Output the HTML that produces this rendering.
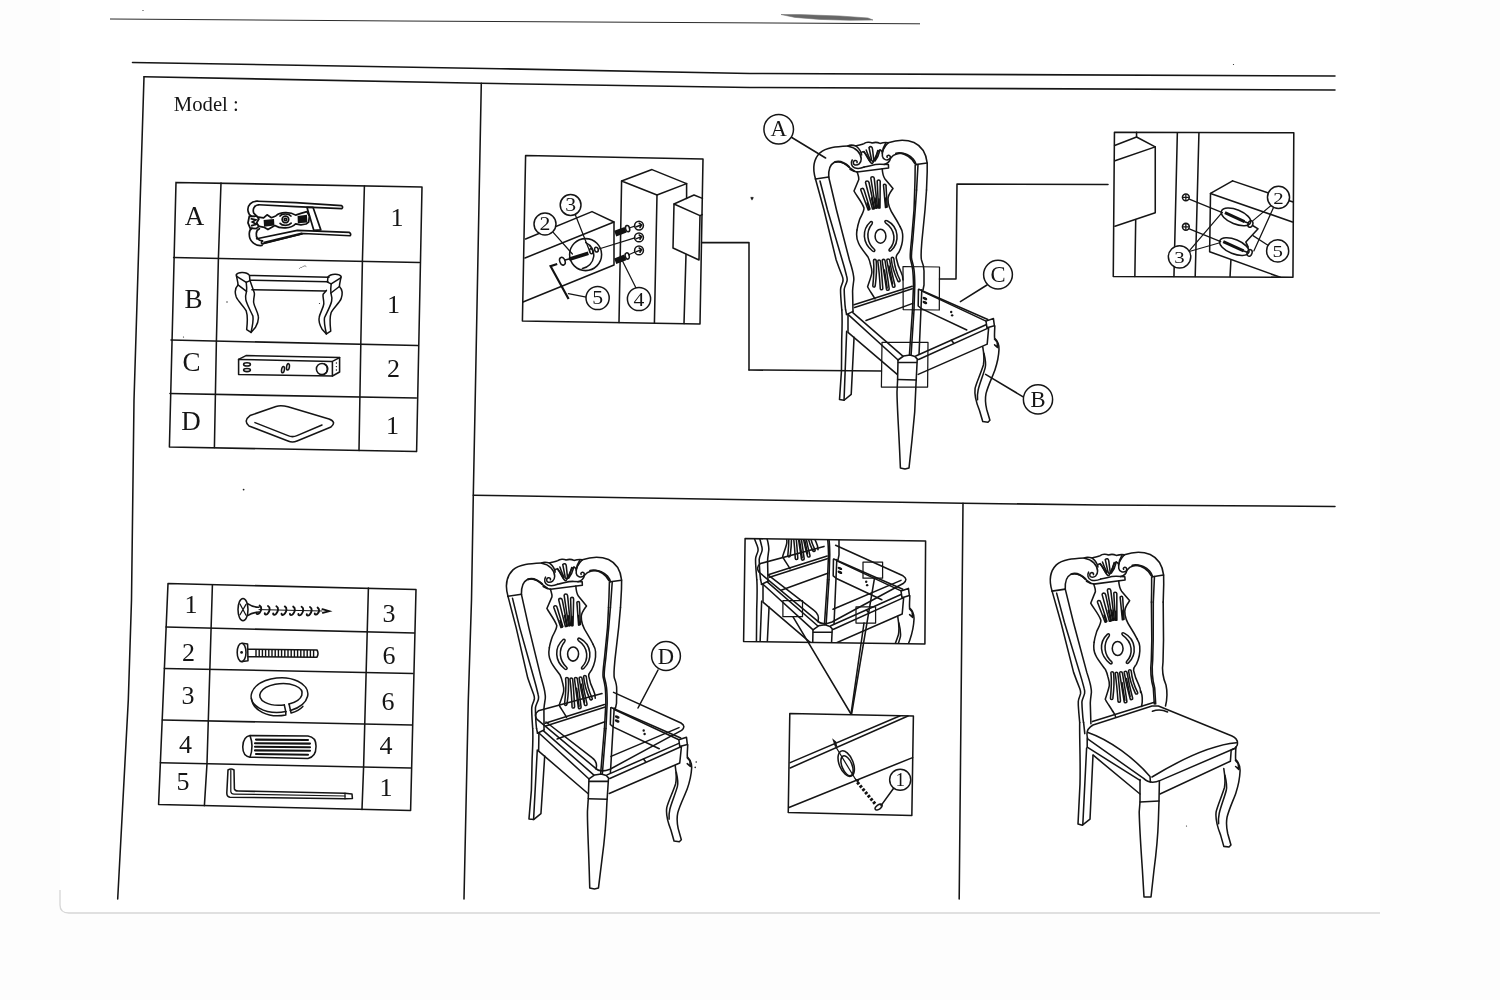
<!DOCTYPE html>
<html lang="en"><head><meta charset="utf-8"><title>Chair assembly sheet</title>
<style>
html,body{margin:0;padding:0;background:#fdfdfd;}
body{width:1500px;height:1000px;overflow:hidden;position:relative;}
svg{position:absolute;left:0;top:0;display:block;filter:grayscale(1)}
svg *{vector-effect:non-scaling-stroke}
.l{fill:none;stroke:#151515;stroke-width:1.55;stroke-linecap:round;stroke-linejoin:round}
.t{fill:none;stroke:#151515;stroke-width:1.25;stroke-linecap:round;stroke-linejoin:round}
.h{fill:none;stroke:#151515;stroke-width:2;stroke-linecap:round;stroke-linejoin:round}
.w{fill:#fff;stroke:#151515;stroke-width:1.5;stroke-linejoin:round}
.k{fill:#151515;stroke:none}
text{font-family:"Liberation Serif","DejaVu Serif",serif;fill:#151515}
</style></head><body>
<svg width="1500" height="1000" viewBox="0 0 1500 1000">
<!-- paper -->
<rect x="0" y="0" width="1500" height="1000" fill="#fdfdfd"/>
<path d="M60,0 L60,905 Q60,913 69,913 L1380,913 L1380,0 Z" fill="#ffffff"/>
<path d="M60,890 L60,905 Q60,913 69,913 L1200,913 L1380,913" fill="none" stroke="#dcd6cc" stroke-width="1.3"/>
<!-- stray top line -->
<path d="M110,19 L400,21 L920,23.8" fill="none" stroke="#2a2a2a" stroke-width="1"/>
<path d="M781,14.5 L800,14.6 L840,16 L868,18 L873,20 L850,20.3 L820,19.4 L795,17.4 Z" fill="#666" stroke="#777" stroke-width="0.6"/>
<!-- frame -->
<path class="l" d="M132.5,62.5 L500,68.7 L750,73.5 L1335,76"/>
<path class="l" d="M144,76.7 L481,83.3 L750,87.5 L1335,90"/>
<path class="l" d="M144,76.7 L134,400 L131.5,600 L128.3,700 L117.7,899"/>
<path class="l" d="M481.3,83.3 L475.2,400 L473.3,495 L471.5,600 L468.3,700 L464,899"/>
<path class="l" d="M473.3,495.2 L963,503.2 L1100,505 L1335,506.5"/>
<path class="l" d="M963,503.2 L959.2,899"/>

<!-- Model label -->
<text x="173.8" y="110.8" font-size="22" textLength="65" lengthAdjust="spacingAndGlyphs">Model :</text>
<!-- Table 1 grid -->
<path class="l" d="M176,182.4 L422,187 L416.6,451.6 L169.4,447 Z"/>
<path class="l" d="M173.6,257.6 L419.4,262.4"/>
<path class="l" d="M171,340 L417.6,345.6"/>
<path class="l" d="M170,393.6 L416.4,398"/>
<path class="l" d="M221,183 L218.4,258.4 L216.4,341 L214.4,447.6"/>
<path class="l" d="M364.4,186 L362.4,261.4 L360.8,344.4 L359,450.6"/>
<g font-size="27" text-anchor="middle">
<text x="194.4" y="224.5">A</text>
<text x="193.6" y="307.5">B</text>
<text x="191.4" y="371">C</text>
<text x="191" y="430">D</text>
<text x="397" y="225.5" font-size="26">1</text>
<text x="393.6" y="312.5" font-size="26">1</text>
<text x="393.6" y="377" font-size="26">2</text>
<text x="392.4" y="434" font-size="26">1</text>
</g>
<!-- Table 2 grid -->
<path class="l" d="M168,583.6 L416,589.4 L410.6,810.4 L158.6,804.4 Z"/>
<path class="l" d="M166,627 L414.4,633"/>
<path class="l" d="M164.4,668.4 L413,673.4"/>
<path class="l" d="M162.4,720 L412,725"/>
<path class="l" d="M160.4,762.8 L410.6,768"/>
<path class="l" d="M212.4,585 L207,763.6 L204.4,805.6"/>
<path class="l" d="M368.4,588 L363.6,767 L362,809.4"/>
<g font-size="26" text-anchor="middle">
<text x="191" y="612.5">1</text>
<text x="188.4" y="660.5">2</text>
<text x="188" y="704">3</text>
<text x="185.6" y="752.5">4</text>
<text x="183" y="790">5</text>
<text x="389" y="621.5">3</text>
<text x="389" y="664">6</text>
<text x="388" y="710">6</text>
<text x="386" y="754">4</text>
<text x="386" y="796">1</text>
</g>

<!-- Part A icon : origin 235,190 scale .08667 -->
<g transform="translate(235,190) scale(0.08667)">
<g fill="none" stroke="#111" stroke-width="1.7" stroke-linecap="round" stroke-linejoin="round">
<path d="M262,130 L700,146 L1230,180 Q1252,198 1232,216 L900,200 L700,192 L272,170"/>
<path d="M262,130 C190,124 140,180 150,240 C155,270 170,292 192,302"/>
<path d="M272,170 C222,176 200,222 216,266 L242,292"/>
<path d="M250,562 L720,466 L1320,490 Q1345,508 1328,528 L790,502 L322,620"/>
<path d="M312,640 C232,650 160,590 165,500 C166,470 176,450 196,440"/>
<path d="M322,620 C300,630 300,600 318,588 M318,588 C270,590 240,550 246,500 C248,470 260,456 282,446"/>
<path d="M830,200 L900,200 L990,460 L910,466 Z"/>
<path d="M270,312 L330,322 L370,286 L420,320 L470,300 C520,250 640,250 700,290 L760,270 L830,250 L858,300 L850,370 L820,392 L760,402 L700,390 C650,450 520,450 460,410 L420,432 L380,456 L340,432 L280,420"/>
<circle cx="582" cy="340" r="38"/><circle cx="582" cy="340" r="14"/>
<path d="M520,300 C540,270 620,268 645,300 M520,385 C545,415 620,415 648,382"/>
</g>
<path d="M330,345 L450,335 L455,410 L335,425 Z" fill="#111"/>
<path d="M722,300 L830,285 L835,375 L725,385 Z" fill="#111"/>
<path d="M165,305 L250,300 L275,335 L250,380 L275,420 L245,445 L175,440 L150,380 Z" fill="none" stroke="#111" stroke-width="1.8"/>
<path d="M180,330 L240,345 L200,370 L245,395 L185,415" fill="none" stroke="#111" stroke-width="1.8"/>
<path d="M330,610 L780,500" fill="none" stroke="#111" stroke-width="2.4"/>
</g>

<!-- Part B icon : origin 225,265 scale .08667 -->
<g transform="translate(225,265) scale(0.08667)" fill="none" stroke="#111" stroke-width="1.5" stroke-linecap="round" stroke-linejoin="round">
<path d="M285,120 L1200,140"/><path d="M290,175 L1188,192"/><path d="M310,285 L1160,300"/>
<g id="bleg">
<path d="M130,112 C150,78 250,78 282,120 L288,180 L245,200 L135,130 Z"/>
<path d="M132,125 C140,170 150,200 150,230 C120,260 105,300 130,370 C150,420 220,480 245,530 C262,580 262,640 250,745 L300,778 L350,722 C375,680 392,640 384,590 C378,540 335,480 330,430 C328,380 345,350 338,320 L290,185"/>
<path d="M245,200 C250,240 252,280 248,305 C238,340 232,370 240,400 C250,450 290,520 322,590 C330,640 318,700 300,778"/>
<path d="M150,230 L248,305"/>
</g>
<g transform="translate(1470,18) scale(-1,1)">
<path d="M130,112 C150,78 250,78 282,120 L288,180 L245,200 L135,130 Z"/>
<path d="M132,125 C140,170 150,200 150,230 C120,260 105,300 130,370 C150,420 220,480 245,530 C262,580 262,640 250,745 L300,778 L350,722 C375,680 392,640 384,590 C378,540 335,480 330,430 C328,380 345,350 338,320 L300,275"/>
<path d="M245,200 C250,240 252,280 248,305 C238,340 232,370 240,400 C250,450 290,520 322,590 C330,640 318,700 300,778"/>
<path d="M150,230 L248,305"/>
</g>
</g>

<!-- Part C and D icons : origin 150,310 scale .2 -->
<g transform="translate(150,310) scale(0.2)">
<path class="l" d="M443,247 L480,228 L948,238 L948,310 L912,330 L443,322 Z"/>
<path class="l" d="M443,247 L912,257 L912,330 M912,257 L948,238"/>
<ellipse class="l" cx="485" cy="272" rx="17" ry="8"/><ellipse class="l" cx="485" cy="300" rx="17" ry="8"/>
<ellipse class="l" cx="665" cy="298" rx="7" ry="16" transform="rotate(10 665 298)"/><ellipse class="l" cx="690" cy="284" rx="7" ry="16" transform="rotate(10 690 284)"/>
<circle class="l" cx="860" cy="295" r="28"/>
<path class="l" d="M872,270 A28,28 0 0 1 872,320"/>
<circle class="k" cx="932" cy="265" r="3.5"/><circle class="k" cx="932" cy="283" r="3.5"/><circle class="k" cx="932" cy="300" r="3.5"/>
<!-- D cushion -->
<path class="l" d="M500,528 L630,482 Q655,474 690,484 L895,545 Q935,560 905,585 L735,655 Q712,665 690,655 L495,580 Q465,555 500,528 Z"/>
<path class="l" d="M525,563 L690,628 Q712,638 735,628 L860,575"/>
</g>

<!-- hardware icons : origin 150,570 scale .2 -->
<g transform="translate(150,570) scale(0.2)">
<!-- 1 wood screw -->
<ellipse class="l" cx="465" cy="198" rx="25" ry="56"/>
<path class="t" d="M450,170 L480,226 M480,172 L450,224"/>
<path class="l" d="M488,168 C505,180 520,186 545,186 M488,228 C505,216 520,212 545,210"/>
<g fill="none" stroke="#111" stroke-width="1.9" stroke-linecap="round">
<path d="M548,178 C562,186 556,204 548,214 C542,224 530,222 532,214"/>
<path d="M590,180 C604,188 598,206 590,216 C584,226 572,224 574,216"/>
<path d="M632,181 C646,189 640,207 632,217 C626,227 614,225 616,217"/>
<path d="M674,182 C688,190 682,208 674,218 C668,228 656,226 658,218"/>
<path d="M716,183 C730,191 724,209 716,219 C710,229 698,227 700,219"/>
<path d="M758,184 C772,192 766,210 758,220 C752,230 740,228 742,220"/>
<path d="M800,185 C814,193 808,211 800,221 C794,231 782,229 784,221"/>
<path d="M838,188 C850,196 846,210 838,218 C832,226 822,224 824,217"/>
<path d="M862,196 L895,206 L864,214"/>
<path d="M545,198 L860,205" stroke-width="1"/>
</g>
<!-- 2 bolt -->
<ellipse class="l" cx="458" cy="412" rx="22" ry="46"/>
<circle class="k" cx="458" cy="412" r="7"/>
<path class="l" d="M462,366 L488,370 L490,454 L462,458"/>
<path class="l" d="M490,396 L835,400 Q845,418 835,436 L490,434"/>
<g fill="none" stroke="#111" stroke-width="1.4">
<path d="M530,398 L530,434 M546,398 L546,434 M562,398 L562,434 M578,398 L578,434 M594,399 L594,434 M610,399 L610,434 M626,399 L626,435 M642,399 L642,435 M658,399 L658,435 M674,399 L674,435 M690,399 L690,435 M706,399 L706,435 M722,400 L722,435 M738,400 L738,435 M754,400 L754,435 M770,400 L770,436 M786,400 L786,436 M802,400 L802,436 M818,400 L818,436"/>
</g>
<!-- 3 ring washer -->
<g transform="rotate(-4 648 625)">
<path class="l" d="M697,706 A142,86 0 1 0 673,710"/>
<path class="l" d="M692,673 A106,54 0 1 0 668,676"/>
<path class="l" d="M697,706 L692,673 M673,710 L668,676"/>
<path class="l" d="M506,632 C508,690 580,738 672,727 L673,710"/>
<path class="l" d="M697,706 L699,719 C722,714 745,704 760,690"/>
</g>
<!-- 4 dowel -->
<path class="l" d="M500,828 L790,830 Q832,836 830,884 Q830,934 790,942 L500,936 Q462,930 464,882 Q466,834 500,828 Z"/>
<path class="l" d="M500,828 Q520,880 500,936"/>
<g fill="none" stroke="#111" stroke-width="2.1" stroke-linecap="round">
<path d="M530,848 L790,850"/><path d="M525,866 L800,868"/><path d="M525,884 L800,886"/><path d="M525,902 L800,904"/><path d="M530,920 L790,924"/>
</g>
</g>
<!-- 5 allen key : origin 150,700 scale .2 -->
<g transform="translate(150,700) scale(0.2)">
<path class="l" d="M390,350 Q405,340 420,350 L422,445 Q425,455 440,455 L975,466 L1010,470 L1012,492 L975,494 L400,486 Q384,484 384,465 Z"/>
<path class="t" d="M404,352 L404,458 Q406,470 420,470 L975,480"/>
<path class="t" d="M975,466 L975,494"/>
</g>

<!-- Detail 1 (bolt + dowels) : coordinates in 5x zoom space -->
<g transform="translate(510,140) scale(0.2)">
<path class="l" d="M78,78 L965,95 L950,920 L62,905 Z"/>
<!-- post -->
<path class="l" d="M558,205 L710,148 L883,218 L735,275 Z"/>
<path class="l" d="M558,205 L545,913"/>
<path class="l" d="M735,275 L722,916"/>
<path class="l" d="M883,218 L883,292"/>
<path class="l" d="M880,572 L870,918"/>
<!-- right block -->
<path class="l" d="M820,320 L815,540 L945,600 L950,378 Z"/>
<path class="l" d="M820,320 L920,275 L962,292"/>
<path class="l" d="M950,378 L961,373"/>
<!-- left rail -->
<path class="l" d="M78,495 L410,358 L520,410 L520,625 L65,810"/>
<path class="l" d="M75,590 L520,410"/>
<!-- bore hole -->
<circle class="l" cx="378" cy="573" r="80"/>
<path class="l" d="M379,513 A68,68 0 0 1 362,642"/>
<!-- bolt -->
<ellipse class="l" cx="262" cy="606" rx="13" ry="20" transform="rotate(-20 262 606)"/>
<path class="l" d="M275,600 L300,594"/>
<path d="M296,596 L392,566" fill="none" stroke="#111" stroke-width="3.6"/>
<ellipse class="l" cx="406" cy="556" rx="8" ry="13" transform="rotate(-15 406 556)"/>
<ellipse class="l" cx="432" cy="548" rx="9" ry="12" transform="rotate(-15 432 548)"/>
<path class="t" d="M444,545 L624,489"/>
<!-- dowels -->
<path d="M526,468 L578,449" fill="none" stroke="#111" stroke-width="6"/>
<ellipse class="l" cx="588" cy="443" rx="10" ry="16" transform="rotate(-15 588 443)"/>
<path class="t" d="M596,440 L624,431"/>
<path d="M526,606 L576,587" fill="none" stroke="#111" stroke-width="6"/>
<ellipse class="l" cx="586" cy="580" rx="10" ry="16" transform="rotate(-15 586 580)"/>
<path class="t" d="M594,574 L624,560"/>
<!-- arrow circles -->
<circle class="l" cx="645" cy="428" r="22"/><path class="l" d="M632,434 L658,424 M646,416 L658,424 L650,438"/>
<circle class="l" cx="645" cy="487" r="22"/><path class="l" d="M632,493 L658,483 M646,475 L658,483 L650,497"/>
<circle class="l" cx="645" cy="552" r="22"/><path class="l" d="M632,558 L658,548 M646,540 L658,548 L650,562"/>
<!-- allen key -->
<path d="M236,620 L203,631 L293,795" fill="none" stroke="#111" stroke-width="2.2" stroke-linejoin="miter"/>
<!-- labels -->
<path class="t" d="M326,372 L400,560"/>
<path class="t" d="M216,462 L312,570"/>
<path class="t" d="M381,786 L292,768"/>
<path class="t" d="M630,740 L560,600"/>
<circle class="w" cx="303" cy="325" r="52"/>
<circle class="w" cx="175" cy="420" r="55"/>
<circle class="w" cx="438" cy="790" r="58"/>
<circle class="w" cx="645" cy="795" r="58"/>
<g font-family="'Liberation Sans',sans-serif" font-size="92" text-anchor="middle" style="font-family:'Liberation Sans',sans-serif">
<text transform="translate(303,357) scale(1.18,1)">3</text><text transform="translate(175,452) scale(1.18,1)">2</text><text transform="translate(438,822) scale(1.18,1)">5</text><text transform="translate(645,828) scale(1.18,1)">4</text>
</g>
<!-- connector -->
<path class="l" d="M958,513 L1195,513 L1195,1150"/>
</g>

<!-- Chair 1 -->
<g id="chairTop" transform="translate(800,130) scale(0.1)">
<!-- top rail / ears : 10x zoom coords origin (800,130) -->
<path class="l" d="M155,490 C128,400 128,300 200,228 C262,172 370,166 480,160"/>
<path class="l" d="M155,490 L287,470"/>
<path class="l" d="M287,470 C284,400 292,350 340,325 C400,300 450,330 500,380 L545,412"/>
<path class="h" d="M350,320 C400,305 450,330 490,368"/>
<path class="l" d="M500,392 L540,412 L572,420"/>
<!-- crest top edge -->
<path class="l" d="M480,160 C500,148 530,150 560,160 C580,150 620,148 640,136 C660,120 700,118 722,130 C745,122 780,124 800,134 C830,126 860,124 882,128"/>
<!-- left volute -->
<path class="l" d="M482,162 C560,175 610,230 612,290 C612,335 580,355 550,350 C528,345 528,312 548,306 C565,302 576,315 570,326"/>
<path class="l" d="M522,300 C505,330 515,365 545,378 C580,390 615,382 642,370"/>
<!-- right volute -->
<path class="l" d="M882,128 C850,160 818,215 824,262 C830,298 870,308 895,290 C912,275 902,250 884,252 C872,254 866,264 872,272"/>
<path class="l" d="M905,282 C900,310 880,335 842,345"/>
<!-- shell -->
<path class="l" d="M612,230 C630,200 660,230 690,300 C700,320 712,335 722,335 C735,330 745,300 760,260 C775,215 800,180 818,215"/>
<path class="l" d="M640,215 C660,250 680,290 700,312 M800,200 C790,240 770,285 750,310 M662,200 C676,240 690,275 706,300 M778,205 C770,240 758,275 744,300"/>
<path class="l" d="M560,160 C590,185 612,215 616,250 M858,130 C840,160 826,195 822,230"/>
<path class="l" d="M690,175 C705,160 722,165 725,190 L738,300 C735,318 722,318 716,300 Z"/>
<path class="l" d="M642,370 C700,362 740,340 800,342 L884,346 L886,380 L572,420"/>
<!-- right ear -->
<path class="l" d="M882,128 C960,100 1060,92 1140,125 C1215,160 1262,240 1272,330 L1272,420 L1265,600"/>
<path class="l" d="M905,282 C935,240 1000,218 1070,245 C1120,265 1155,310 1162,346"/>
<path class="h" d="M960,235 C1010,220 1075,245 1120,292 L1150,335"/>
<path class="l" d="M1162,346 L1271,330"/>
<path class="l" d="M1152,350 L1150,500 L1147,600"/>
<path class="l" d="M1180,345 L1166,600"/>
<!-- left stile -->
<path class="l" d="M155,490 L240,800 L362,1300 C390,1380 410,1430 422,1460 C430,1480 432,1495 430,1510 C424,1540 408,1560 406,1590 C404,1630 408,1660 410,1700 L418,1800"/>
<path class="l" d="M200,510 L275,800 L422,1300 C440,1360 456,1420 466,1460 C472,1480 474,1495 470,1510 C462,1545 444,1565 442,1596 C442,1650 447,1700 450,1748 L456,1800"/>
<path class="l" d="M287,470 L365,800 L494,1300 C510,1350 524,1400 530,1428 C536,1460 540,1480 538,1500 C532,1550 524,1590 526,1620 L530,1812"/>
<!-- splat upper contour -->
<path class="l" d="M572,420 C580,450 592,470 588,495 L540,610 C560,650 620,720 640,780 C640,820 610,860 598,890 C585,930 575,960 570,1000"/>
<path class="l" d="M822,388 C825,430 835,470 850,490 L930,585 C905,620 880,650 880,690 C878,740 900,800 940,860 C965,900 985,935 1000,965"/>
<!-- upper flutes -->
<g class="l">
<path d="M608,600 C605,580 635,578 640,598 L700,790 L682,800 Z"/>
<path d="M655,525 C655,505 685,505 690,525 L745,785 L725,790 Z"/>
<path d="M708,480 C710,462 738,462 742,482 L775,778 L757,782 Z"/>
<path d="M772,512 C772,496 800,496 802,514 L800,780 L785,780 Z"/>
<path d="M835,552 C835,538 860,538 860,554 L872,770 L855,775 Z"/>
</g>
<g fill="none" stroke="#111" stroke-width="1.6" stroke-linecap="round">
<path d="M672,730 L692,795"/><path d="M715,680 L738,788"/><path d="M750,680 L766,780"/><path d="M790,690 L792,778"/><path d="M852,680 L863,772"/>
</g>
<g transform="translate(200,800)">
<path class="l" d="M370,200 C360,260 370,300 385,330 C400,370 450,430 480,470 C495,500 500,520 505,545 C515,580 522,600 518,630 C512,670 490,720 476,768 C490,800 530,850 550,890"/>
<path class="l" d="M800,165 C815,190 825,210 826,240 C830,290 815,370 790,420 C770,445 758,455 762,480 C770,520 790,580 810,620 C825,650 830,660 830,700"/>
<ellipse class="l" cx="605" cy="262" rx="54" ry="70"/>
<path class="l" d="M505,118 C520,110 530,125 520,140 C455,220 470,330 545,395 C555,410 540,422 525,410 C425,330 415,200 505,118 Z"/>
<path class="l" d="M655,128 C640,112 655,98 672,108 C790,170 800,320 712,405 C698,418 682,405 695,390 C760,320 760,200 655,128 Z"/>
<g class="l">
<path d="M535,505 C535,490 560,490 562,505 C570,600 560,700 552,760 C548,775 528,775 528,758 C535,690 545,600 535,505 Z"/>
<path d="M578,510 C578,496 602,496 604,510 C615,600 622,700 628,785 C628,800 606,802 603,788 C598,700 590,600 578,510 Z"/>
<path d="M622,505 C622,490 648,490 650,505 C665,600 680,700 692,790 C692,805 668,808 665,794 C652,700 635,600 622,505 Z"/>
<path d="M668,500 C668,486 694,486 696,500 C710,590 730,680 750,758 C752,772 730,778 725,764 C702,680 682,590 668,500 Z"/>
<path d="M712,485 C712,470 736,470 738,485 C745,560 770,640 800,700 C806,714 786,722 778,710 C745,640 720,560 712,485 Z"/>
</g>
<g fill="none" stroke="#111" stroke-width="1.5" stroke-linecap="round">
<path d="M645,600 L672,780"/><path d="M690,560 L725,740"/>
</g>
</g>
</g>
<g id="rsLower" transform="translate(800,130) scale(0.1)">
<path class="l" d="M1265,600 L1250,800 L1220,1100 C1212,1200 1205,1260 1215,1300 C1235,1350 1242,1380 1240,1420 L1240,1550 L1230,1600"/>
<path class="l" d="M1147,600 L1140,800 L1115,1100 C1105,1200 1098,1250 1104,1290 C1125,1370 1132,1400 1135,1550 L1125,1800"/>
<path class="l" d="M1166,600 L1152,800 L1128,1100 C1118,1200 1110,1250 1116,1290 C1138,1370 1146,1400 1148,1550 L1140,1800"/>
</g>

<!-- Chair 1 : back-left leg (z6: origin 820,280 scale .13) -->
<g id="blLeg" transform="translate(820,280) scale(0.13)">
<path class="l" d="M168,230 C171,280 170,380 167,460 L165,700 L150,920 L185,925 L240,880 L262,440"/>
<path class="l" d="M197,230 L204,262"/>
<path class="l" d="M205,395 L185,925"/>
</g>
<!-- seat frame (z3: origin 830,270 scale .12) -->
<g id="seat1" transform="translate(830,270) scale(0.12)">
<!-- back-right leg seen through frame -->
<path class="l" d="M687,333 L662,705"/><path class="l" d="M700,333 L676,705"/><path class="l" d="M765,165 L742,700"/>
<!-- back rail -->
<path class="l" d="M200,290 L685,135"/><path class="l" d="M205,312 L685,157"/><path class="l" d="M300,420 L690,278"/>
<!-- left rail -->
<path class="l" d="M137,372 L192,345"/>
<path class="l" d="M150,370 L565,748"/><path class="l" d="M190,355 L605,716"/><path class="l" d="M150,370 L150,520 L560,870"/>
<!-- front rail -->
<path class="l" d="M715,716 L1300,456"/><path class="l" d="M738,746 L1322,482 L1310,618 L735,870"/>
<path class="l" d="M1012,585 L1030,608"/>
<!-- C rail -->
<path class="l" d="M740,160 L1315,412"/><path class="l" d="M766,176 L1300,426"/>
<path class="l" d="M737,162 L735,300 L762,322 L1140,500"/>
<ellipse class="k" cx="791" cy="238" rx="21" ry="11" transform="rotate(25 791 238)"/><ellipse class="k" cx="791" cy="271" rx="21" ry="11" transform="rotate(25 791 271)"/>
<circle class="k" cx="1010" cy="350" r="10"/><circle class="k" cx="1018" cy="378" r="10"/>
<!-- corner block -->
<path class="l" d="M1300,426 L1362,405 L1370,465 L1308,482 Z"/>
</g>
<!-- front-left leg + B leg (z2: origin 750,280 scale .2) -->
<g id="legs1" transform="translate(750,280) scale(0.2)">
<path class="l" d="M740,400 L768,380 L800,375 L825,383 L838,397"/>
<path class="l" d="M740,400 L738,500 L735,560 C735,620 742,720 748,850 L752,940 L775,945 L795,940 L810,800 C822,700 828,620 830,520 L836,400"/>
<path class="l" d="M742,412 L833,412"/><path class="l" d="M738,498 L831,500"/>
<!-- B leg (coords: origin 960,300 scale .13) -->
<g transform="translate(1050,100) scale(0.65)">
<path class="l" d="M268,200 C266,240 264,270 266,292 C290,315 302,340 300,380 C298,430 285,490 268,540 C250,590 215,660 200,720 C192,760 196,800 205,840 L230,925 L215,940 L175,935 L150,850 C125,790 108,740 116,680 C128,630 158,570 180,500 C190,450 182,400 175,360"/>
<path class="l" d="M265,300 L285,322 L290,366 L266,345"/>
<path class="l" d="M184,410 C196,460 202,490 194,520 C181,570 152,640 140,690 C134,720 132,745 135,768"/>
</g>
</g>

<!-- Chair 1 annotations: highlight boxes, connectors, labels -->
<g transform="translate(750,280) scale(0.2)">
<path class="t" d="M660,312 L890,312 L888,535 L657,535 Z"/>
<path class="l" d="M657,455 L-5,450"/>
<path class="l" d="M1372,588 L1178,472"/>
<circle class="w" cx="1440" cy="597" r="73"/>
<text x="1440" y="634" font-size="113" text-anchor="middle">B</text>
</g>
<g transform="translate(750,100) scale(0.2)">
<path class="l" d="M205,185 L378,290"/>
<circle class="w" cx="143.5" cy="146" r="74"/>
<text x="143.5" y="181" font-size="113" text-anchor="middle">A</text>
<path class="l" d="M1185,925 L1052,1008"/>
<circle class="w" cx="1240" cy="873" r="72"/>
<text x="1240" y="910" font-size="113" text-anchor="middle">C</text>
</g>
<path class="t" d="M903,266.5 L939.5,267 L939.3,310 L903.2,309.6 Z"/>
<path class="l" d="M939.5,279 L956,279 L957,184 L1108,184.5"/>

<!-- Detail 2 (upper right) : origin 1100,120 scale .17 -->
<g transform="translate(1100,120) scale(0.17)">
<path class="l" d="M85,72 L1140,75 L1135,925 L78,920 Z"/>
<!-- left block -->
<path class="l" d="M215,72 L215,100 L325,158 L325,545 L88,625"/>
<path class="l" d="M86,150 L215,100"/>
<path class="l" d="M88,240 L325,158"/>
<path class="l" d="M210,590 L205,920"/>
<!-- post -->
<path class="l" d="M455,75 L435,920"/>
<path class="l" d="M582,75 L560,920"/>
<!-- right block -->
<path class="l" d="M780,358 L650,432 L645,775 L1060,925"/>
<path class="l" d="M780,358 L1000,432"/>
<path class="l" d="M650,432 L1132,600"/>
<path class="l" d="M1100,470 L1136,482"/>
<path class="l" d="M770,825 L765,920"/>
<!-- holes -->
<circle class="l" cx="505" cy="455" r="20"/><path class="t" d="M490,455 L520,455 M505,440 L505,470"/>
<circle class="l" cx="505" cy="628" r="20"/><path class="t" d="M490,628 L520,628 M505,613 L505,643"/>
<path class="t" d="M525,465 L720,545"/><path class="t" d="M525,640 L710,715"/>
<!-- slots -->
<ellipse class="l" cx="800" cy="570" rx="92" ry="42" transform="rotate(22 800 570)"/>
<ellipse class="l" cx="790" cy="745" rx="92" ry="42" transform="rotate(22 790 745)"/>
<path d="M735,545 L850,598" fill="none" stroke="#111" stroke-width="3"/>
<path d="M725,716 L845,770" fill="none" stroke="#111" stroke-width="3"/>
<ellipse class="l" cx="885" cy="612" rx="14" ry="20" transform="rotate(20 885 612)"/>
<ellipse class="l" cx="880" cy="782" rx="14" ry="20" transform="rotate(20 880 782)"/>
<path class="l" d="M850,598 L872,606 M845,770 L867,778"/>
<!-- allen key -->
<path class="l" d="M900,622 L930,640 L858,718 L872,748"/>
<!-- leaders -->
<path class="t" d="M1010,500 L900,592"/><path class="t" d="M1022,512 L905,770"/>
<path class="t" d="M525,770 L715,548"/><path class="t" d="M530,772 L705,722"/>
<path class="t" d="M990,738 L900,680"/>
<circle class="w" cx="1050" cy="455" r="65"/>
<circle class="w" cx="1045" cy="770" r="65"/>
<circle class="w" cx="468" cy="805" r="66"/>
<g font-size="104" text-anchor="middle" style="font-family:'Liberation Sans',sans-serif">
<text transform="translate(1050,492) scale(1.18,1)">2</text><text transform="translate(1045,808) scale(1.18,1)">5</text><text transform="translate(468,843) scale(1.18,1)">3</text>
</g>
</g>

<!-- Chair 2 (lower left): same chair, translated -->
<g transform="matrix(1.015 0 -0.0153 1.009 -317.0 415.73)">
<use href="#chairTop"/><use href="#rsLower"/><use href="#blLeg"/><use href="#seat1"/><use href="#legs1"/>
</g>
<!-- cushion outline + D label : origin 480,690 scale .2 -->
<g id="cushOutline" transform="translate(480,690) scale(0.2)">
<path class="l" d="M292,104 L610,18 M668,12 L1005,165 Q1032,182 1008,202 L650,396 Q600,416 574,388 L284,146 Q268,120 292,104"/>
<path class="l" d="M330,160 L560,338 Q590,360 580,395"/>
<path class="l" d="M655,332 L995,188"/>
</g>
<g transform="translate(480,530) scale(0.2)">
<path class="l" d="M890,700 L790,890"/>
<circle class="w" cx="930" cy="630" r="72"/>
<text x="930" y="668" font-size="113" text-anchor="middle">D</text>
</g>

<!-- Chair 3 (lower right, finished chair) -->
<g transform="matrix(1 0 0.01 1.003 234.8 411.6)"><use href="#chairTop"/></g>
<path class="l" d="M1163.2,602 L1163.5,640 L1163,662 C1161.5,672 1163,678 1166,685 C1167.5,692 1167.5,698 1165.5,706"/>
<path class="l" d="M1151.4,602 L1151.8,640 L1151.3,660 C1150,672 1151,680 1153.3,688 L1154.3,704"/>
<path class="l" d="M1153.3,602 L1153.2,640 L1152.7,660 C1151.4,672 1152.4,680 1154.7,688 L1155.7,704"/>
<path class="l" d="M1140.8,691 C1143,697 1142.8,701 1141.6,706.5"/>
<path class="l" d="M1112.6,711 C1114.5,713.5 1115.5,715.5 1115.8,717.5"/>
<g transform="translate(1020,700) scale(0.2)">
<!-- back-left leg -->
<path class="l" d="M298.5,112 C297,200 303,300 300,420 L290,620 L312,626 L350,596 L365,275"/>
<path class="l" d="M318,112 L324,168"/>
<path class="l" d="M333,240 L314,624"/>
<!-- back rail -->
<path class="l" d="M362,108 L668,12"/>
<!-- cushion -->
<path class="w" d="M365,125 L660,30 L692,30 L1060,180 Q1094,196 1086,226 L1078,240 L702,402 Q650,424 618,392 L340,196 Q322,150 365,125 Z"/>
<path class="l" d="M340,162 C450,200 570,290 650,382 L652,410"/>
<path class="l" d="M660,385 C800,300 960,225 1082,214"/>
<path class="l" d="M662,56 Q700,42 738,60"/>
<!-- rails -->
<path class="l" d="M336,190 L336,236 L600,402"/>
<path class="l" d="M366,276 L600,470"/>
<path class="l" d="M1078,240 L1056,250 L1052,306 L700,470"/>
<!-- front leg -->
<path class="l" d="M600,398 L600,510 L596,560 C598,650 606,760 612,850 L620,985 L655,985 L670,850 C682,760 690,660 692,600 L695,505 L697,404"/>
<path class="l" d="M600,510 L695,505"/>
</g>
<g transform="matrix(0.13 0 0 0.13533 1201.05 719.83)">
<path class="l" d="M268,200 C266,240 264,270 266,292 C290,315 302,340 300,380 C298,430 285,490 268,540 C250,590 215,660 200,720 C192,760 196,800 205,840 L230,925 L215,940 L175,935 L150,850 C125,790 108,740 116,680 C128,630 158,570 180,500 C190,450 182,400 175,360"/>
<path class="l" d="M265,300 L285,322 L290,366 L266,345"/>
<path class="l" d="M184,410 C196,460 202,490 194,520 C181,570 152,640 140,690 C134,720 132,745 135,768"/>
</g>

<!-- Detail 3 : enlarged seat frame with highlight boxes -->
<clipPath id="d3clip"><path d="M745.1,538.6 L925.6,541.1 L924.9,644 L743.6,641.5 Z"/></clipPath>
<g clip-path="url(#d3clip)">
<g transform="translate(-85,269.8)"><use href="#chairTop"/><use href="#rsLower"/><use href="#blLeg"/><use href="#seat1"/><use href="#legs1"/></g>
<g transform="translate(222,-147.2)"><use href="#cushOutline"/></g>
</g>
<path class="l" d="M745.1,538.6 L925.6,541.1 L924.9,644 L743.6,641.5 Z"/>
<path class="t" d="M782.9,600.6 L802.5,600.6 L802.5,616.7 L782.9,616.7 Z"/>
<path class="t" d="M863,562.1 L882.6,562.1 L882.6,578.2 L863,578.2 Z"/>
<path class="t" d="M856,606.9 L875.6,606.9 L875.6,623 L856,623 Z"/>
<path class="l" d="M792.9,616.7 L851,714"/>
<path class="l" d="M874.5,578.2 L851.6,714"/>
<path class="l" d="M864,623 L851,714"/>
<!-- Detail 4 : screw through slot ; origin 770,700 scale .12 -->
<g transform="translate(770,700) scale(0.12)">
<path class="l" d="M165,112 L1195,133 L1182,962 L152,938 Z"/>
<path class="l" d="M168,522 L1085,131"/><path class="l" d="M168,566 L1150,134"/>
<path class="l" d="M158,896 L1188,480"/>
<ellipse class="l" cx="635" cy="530" rx="58" ry="112" transform="rotate(-22 635 530)"/>
<ellipse class="l" cx="642" cy="548" rx="42" ry="88" transform="rotate(-22 642 548)"/>
<path class="t" d="M548,390 L715,665"/>
<path class="k" d="M518,318 L550,345 L562,392 L540,388 Z"/>
<path class="k" d="M705,652 L745,668 L728,692 Z"/>
<path d="M728,685 L880,870" fill="none" stroke="#111" stroke-width="3.2" stroke-dasharray="2.6 1.6"/>
<ellipse class="l" cx="905" cy="892" rx="34" ry="18" transform="rotate(-35 905 892)"/>
<path class="l" d="M1030,735 L925,880"/>
<circle class="w" cx="1085" cy="665" r="88"/>
<text x="1085" y="718" font-size="160" text-anchor="middle">1</text>
</g>

<!-- scan specks -->
<g fill="#222" stroke="none">
<path d="M750.5,197 Q751.5,196.4 752,197.4 Q752.8,196.4 753.6,197.2 Q753.6,198.8 752,200.4 Q750.4,198.8 750.5,197 Z"/>
<circle cx="243.6" cy="489.6" r="0.9"/>
<circle cx="227" cy="302" r="0.7"/>
<circle cx="319.5" cy="303.5" r="0.6"/>
<circle cx="183.5" cy="337" r="0.6"/>
<circle cx="696.2" cy="762" r="0.8"/><circle cx="695.2" cy="767.4" r="0.8"/>
<circle cx="1186.5" cy="826" r="0.6"/>
<circle cx="143" cy="10.5" r="0.6"/>
<circle cx="1233.5" cy="64.5" r="0.6"/>
</g>
<path d="M299,269 q1.5,-2.5 3,-1.5 q0.5,-1.5 2,-1.2 l1.2,-0.8 l1,1.6" fill="none" stroke="#666" stroke-width="0.7"/>

</svg>
</body></html>
